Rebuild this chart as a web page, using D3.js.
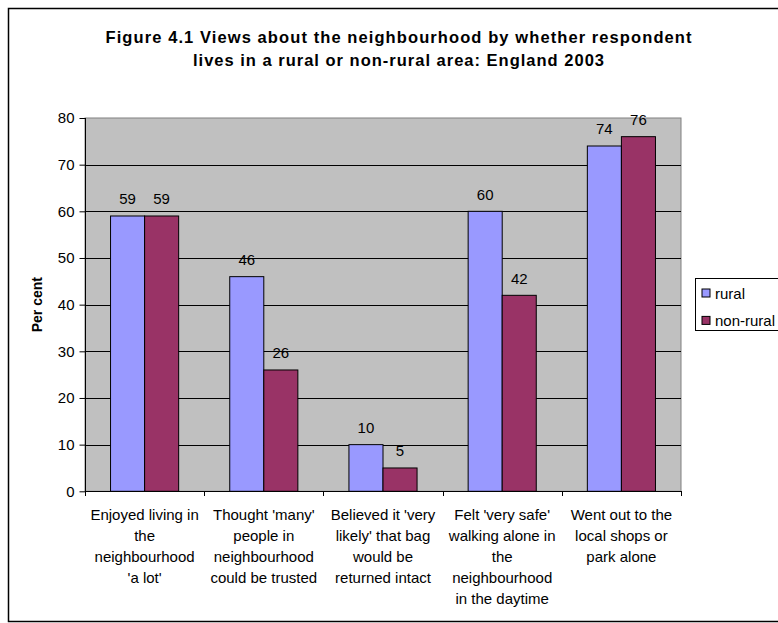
<!DOCTYPE html>
<html>
<head>
<meta charset="utf-8">
<script src="https://cdn.jsdelivr.net/npm/d3@7"></script>
<style>
  html, body { margin: 0; padding: 0; background: #fff; }
  svg { display: block; font-family: "Liberation Sans", Arial, sans-serif; }
</style>
</head>
<body>
<svg id="chart" width="778" height="623"></svg>
<script>
// Views about the neighbourhood, rural vs non-rural respondents (per cent)
const categories = [
  ["Enjoyed living in", "the", "neighbourhood", "'a lot'"],
  ["Thought 'many'", "people in", "neighbourhood", "could be trusted"],
  ["Believed it 'very", "likely' that bag", "would be", "returned intact"],
  ["Felt 'very safe'", "walking alone in", "the", "neighbourhood", "in the daytime"],
  ["Went out to the", "local shops or", "park alone"]
];
const seriesNames = ["rural", "non-rural"];
const ruralValues = [59, 46, 10, 60, 74];
const nonRuralValues = [59, 26, 5, 42, 76];
const yTicks = [0, 10, 20, 30, 40, 50, 60, 70, 80];
const titleLines = [
  "Figure 4.1 Views about the neighbourhood by whether respondent",
  "lives in a rural or non-rural area: England 2003"
];
const yTitle = "Per cent";

const colors = { "rural": "#9999FF", "non-rural": "#993366" };
const seriesValues = { "rural": ruralValues, "non-rural": nonRuralValues };

const svg = d3.select("#chart");

// Outer frame of the chart object
svg.append("rect")
  .attr("x", 8.5).attr("y", 8.5)
  .attr("width", 790).attr("height", 613)
  .attr("fill", "#fff").attr("stroke", "#000").attr("stroke-width", 1.5);

// Plot geometry
const plot = { left: 85, right: 681, top: 118, bottom: 491.3 };

const catIdx = categories.map((d, i) => i);
const x = d3.scaleBand().domain(catIdx).range([plot.left, plot.right]).padding(0);
const bw = x.bandwidth();
const barW = bw / 3.5;
const xs = d3.scaleBand().domain(seriesNames).range([barW * 0.75, bw - barW * 0.75]).padding(0);
const y = d3.scaleLinear().domain([0, 80]).range([plot.bottom, plot.top]);

// Plot area background
svg.append("rect")
  .attr("x", plot.left).attr("y", plot.top)
  .attr("width", plot.right - plot.left).attr("height", plot.bottom - plot.top)
  .attr("fill", "#C0C0C0").attr("stroke", "#808080").attr("stroke-width", 1);

// Horizontal gridlines
svg.append("g").selectAll("line")
  .data(yTicks.filter(t => t > 0 && t < 80))
  .join("line")
  .attr("x1", plot.left).attr("x2", plot.right)
  .attr("y1", d => Math.round(y(d)) + 0.5).attr("y2", d => Math.round(y(d)) + 0.5)
  .attr("stroke", "#000").attr("stroke-width", 1);

// Bars
const groups = svg.append("g").selectAll("g")
  .data(catIdx)
  .join("g")
  .attr("transform", i => `translate(${x(i)},0)`);

groups.selectAll("rect")
  .data(i => seriesNames.map(s => ({ s, v: seriesValues[s][i] })))
  .join("rect")
  .attr("x", d => xs(d.s))
  .attr("y", d => y(d.v))
  .attr("width", xs.bandwidth())
  .attr("height", d => y(0) - y(d.v))
  .attr("fill", d => colors[d.s])
  .attr("stroke", "#000").attr("stroke-width", 1);

// Value labels above bars
groups.selectAll("text")
  .data(i => seriesNames.map(s => ({ s, v: seriesValues[s][i] })))
  .join("text")
  .attr("x", d => xs(d.s) + xs.bandwidth() / 2)
  .attr("y", d => y(d.v) - 11.5)
  .attr("text-anchor", "middle")
  .attr("font-size", 15)
  .attr("fill", "#000")
  .text(d => d.v);

// Y axis
const yAxis = d3.axisLeft(y).tickValues(yTicks).tickSize(6).tickPadding(5);
const yg = svg.append("g")
  .attr("transform", `translate(${plot.left + 0.5},0)`)
  .call(yAxis);
yg.select(".domain").attr("stroke", "#000").attr("d", `M0,${plot.top}V${plot.bottom}`);
yg.selectAll(".tick line").attr("stroke", "#000");
yg.selectAll(".tick text")
  .attr("font-size", 15).attr("font-family", "Liberation Sans, Arial, sans-serif")
  .attr("fill", "#000");

// X axis baseline with ticks at category boundaries
const xg = svg.append("g");
xg.append("line")
  .attr("x1", plot.left).attr("x2", plot.right)
  .attr("y1", Math.round(plot.bottom) + 0.5).attr("y2", Math.round(plot.bottom) + 0.5)
  .attr("stroke", "#000");
const boundaries = catIdx.map(i => x(i)).concat([x(catIdx[catIdx.length - 1]) + bw]);
xg.selectAll("line.tk")
  .data(boundaries)
  .join("line")
  .attr("class", "tk")
  .attr("x1", d => Math.round(d) + 0.5).attr("x2", d => Math.round(d) + 0.5)
  .attr("y1", Math.round(plot.bottom)).attr("y2", Math.round(plot.bottom) + 5)
  .attr("stroke", "#000");

// Category labels (wrapped lines)
const catLabels = svg.append("g").selectAll("text")
  .data(catIdx)
  .join("text")
  .attr("text-anchor", "middle")
  .attr("font-size", 15)
  .attr("fill", "#000");
catLabels.selectAll("tspan")
  .data(i => categories[i].map((line, k) => ({ line, k, i })))
  .join("tspan")
  .attr("x", d => x(d.i) + bw / 2)
  .attr("y", d => 520 + d.k * 21.1)
  .text(d => d.line);

// Y axis title
svg.append("text")
  .attr("transform", `translate(42,${(plot.top + plot.bottom) / 2}) rotate(-90)`)
  .attr("text-anchor", "middle")
  .attr("font-size", 14)
  .attr("font-weight", "bold")
  .attr("fill", "#000")
  .text(yTitle);

// Chart title
const titleWidths = [586, 411];
svg.append("g").selectAll("text")
  .data(titleLines)
  .join("text")
  .attr("x", 398.5)
  .attr("y", (d, i) => 43 + i * 23)
  .attr("text-anchor", "middle")
  .attr("font-size", 16.5)
  .attr("font-weight", "bold")
  .attr("fill", "#000")
  .attr("textLength", (d, i) => titleWidths[i])
  .attr("lengthAdjust", "spacing")
  .text(d => d);

// Legend
const legend = svg.append("g").attr("transform", "translate(695.5,278.5)");
legend.append("rect")
  .attr("width", 90).attr("height", 52)
  .attr("fill", "#fff").attr("stroke", "#000").attr("stroke-width", 1);
const items = legend.selectAll("g.item")
  .data(seriesNames)
  .join("g")
  .attr("class", "item")
  .attr("transform", (d, i) => `translate(0,${15 + i * 27.4})`);
items.append("rect")
  .attr("x", 6.5).attr("y", -4.5)
  .attr("width", 8).attr("height", 8)
  .attr("fill", d => colors[d]).attr("stroke", "#000").attr("stroke-width", 1);
items.append("text")
  .attr("x", 19.5).attr("y", 5)
  .attr("font-size", 15)
  .attr("fill", "#000")
  .text(d => d);
</script>
</body>
</html>
